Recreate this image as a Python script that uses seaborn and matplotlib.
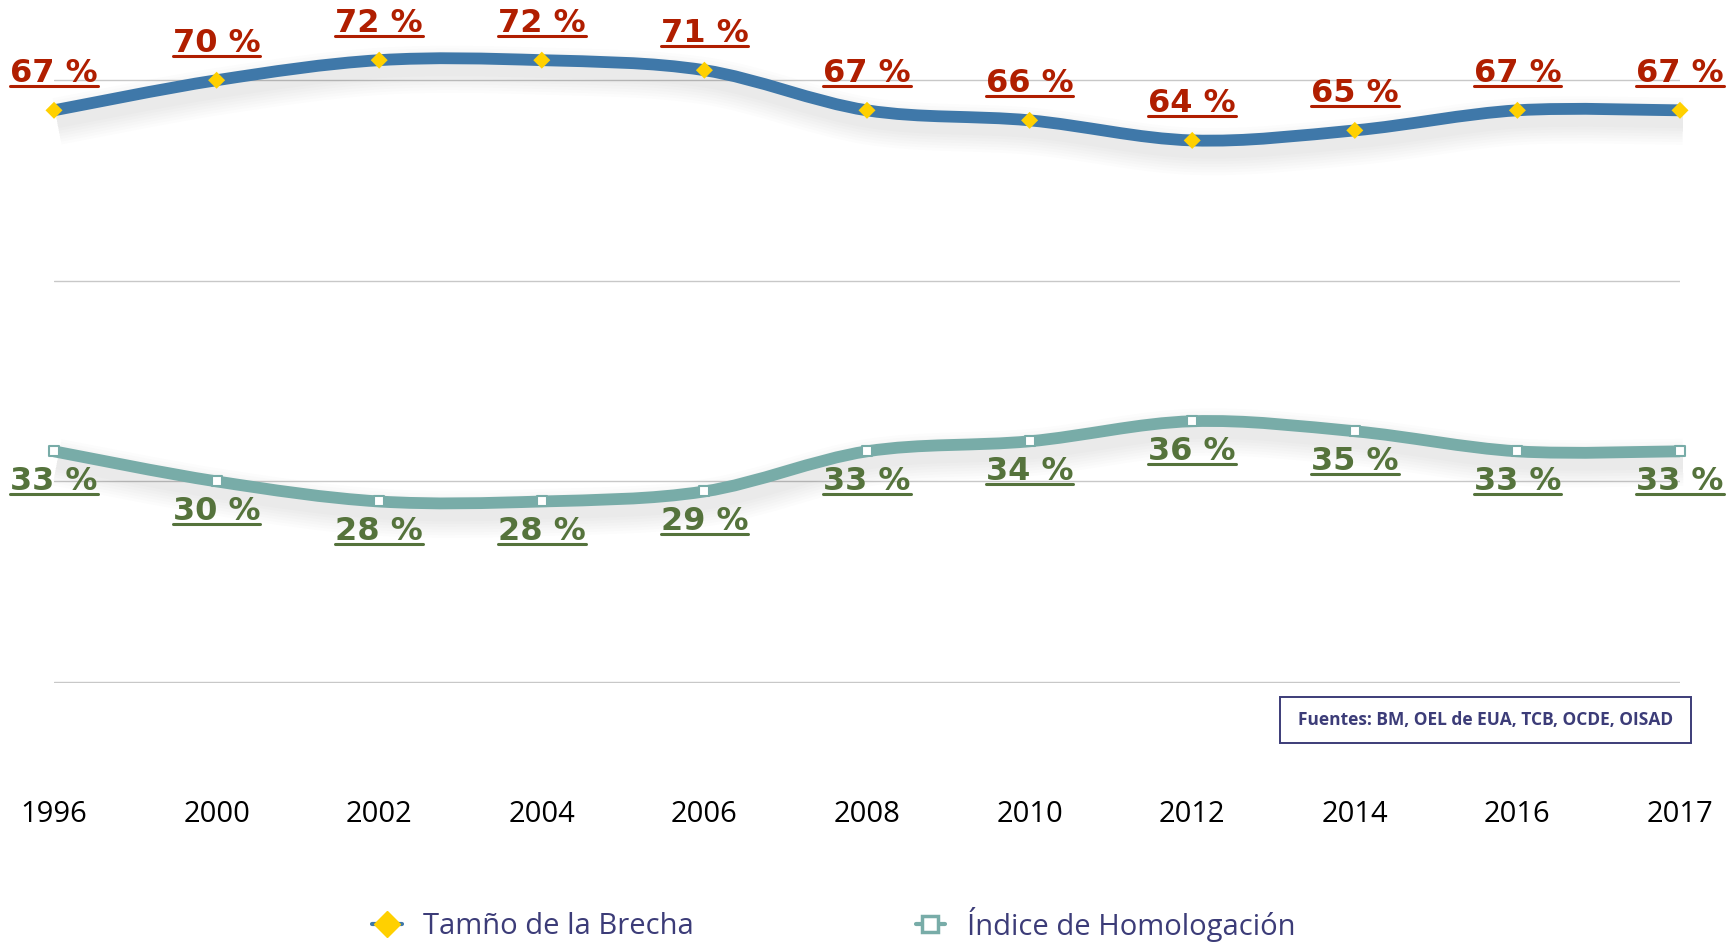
import numpy as np
import pandas as pd
import seaborn as sns
import matplotlib.pyplot as plt
import matplotlib.transforms as mtransforms
from matplotlib.path import Path
from matplotlib.patches import PathPatch, Rectangle
from matplotlib.lines import Line2D

# Data
years = ['1996', '2000', '2002', '2004', '2006', '2008', '2010', '2012', '2014', '2016', '2017']
brecha = [67, 70, 72, 72, 71, 67, 66, 64, 65, 67, 67]
homologacion = [33, 30, 28, 28, 29, 33, 34, 36, 35, 33, 33]
legend_labels = ['Tamño de la Brecha', 'Índice de Homologación']
source_text = 'Fuentes: BM, OEL de EUA, TCB, OCDE, OISAD'

df = pd.DataFrame({'pos': np.arange(len(years)), 'year': years,
                   'brecha': brecha, 'homologacion': homologacion})

BLUE = '#3f78a9'
TEAL = '#78aca8'
YELLOW = '#ffd000'
RED = '#b01e00'
GREEN = '#55733c'
NAVY = '#3c3c78'

sns.set_theme(style='white')
plt.rcParams['font.family'] = ['Open Sans', 'DejaVu Sans']

W, H = 1730, 942
fig = plt.figure(figsize=(W / 100, H / 100), dpi=100)
ax = fig.add_axes([54 / W, 1 - 683 / H, 1626 / W, 683 / H])
ax.set_xlim(0, len(years) - 1)
ax.set_ylim(9.9, 78)


def smooth_path(x, y):
    # Catmull-Rom style smoothing (like Excel "smoothed line") as bezier path
    pts = np.column_stack([x, y]).astype(float)
    ext = np.vstack([pts[0], pts, pts[-1]])
    verts = [pts[0]]
    codes = [Path.MOVETO]
    for i in range(len(pts) - 1):
        p0, p1, p2, p3 = ext[i], ext[i + 1], ext[i + 2], ext[i + 3]
        verts += [p1 + (p2 - p0) / 6, p2 - (p3 - p1) / 6, p2]
        codes += [Path.CURVE4] * 3
    return Path(verts, codes)


shadow_tr = mtransforms.offset_copy(ax.transData, fig=fig, x=3, y=-11, units='dots')
for col, color in [('brecha', BLUE), ('homologacion', TEAL)]:
    path = smooth_path(df['pos'], df[col])
    # soft drop shadow built from stacked translucent strokes
    for lw in [34, 30, 26, 22, 18, 14, 10]:
        ax.add_patch(PathPatch(path, transform=shadow_tr, fc='none', ec='black',
                               lw=lw, alpha=0.012, clip_on=False, zorder=1))
    ax.add_patch(PathPatch(path, fc='none', ec=color, lw=8.5, clip_on=False,
                           zorder=2, capstyle='butt'))

sns.scatterplot(data=df, x='pos', y='brecha', marker='D', s=75, color=YELLOW,
                edgecolor='none', zorder=5, clip_on=False, ax=ax, legend=False)
sns.scatterplot(data=df, x='pos', y='homologacion', marker='s', s=45, color='white',
                edgecolor=TEAL, linewidth=1.5, zorder=5, clip_on=False, ax=ax, legend=False)

# data labels
label_font = dict(family='DejaVu Sans', fontsize=23, fontweight='bold')
labels = []
for i, v in enumerate(brecha):
    t = ax.annotate(f'{v} %', (i, v), xytext=(0, 37), textcoords='offset pixels',
                    ha='center', va='center', color=RED, annotation_clip=False,
                    zorder=6, **label_font)
    labels.append((t, RED))
for i, v in enumerate(homologacion):
    t = ax.annotate(f'{v} %', (i, v), xytext=(0, -30), textcoords='offset pixels',
                    ha='center', va='center', color=GREEN, annotation_clip=False,
                    zorder=6, **label_font)
    labels.append((t, GREEN))

# axes styling
ax.set_yticks([10, 30, 50, 70])
ax.set_yticklabels([])
ax.yaxis.grid(True, color='#c8c8c8', lw=1)
ax.xaxis.grid(False)
ax.set_xticks(df['pos'])
ax.set_xticklabels(years, fontsize=21, color='black')
ax.tick_params(axis='x', length=0, pad=84)
ax.tick_params(axis='y', length=0)
ax.set_xlabel('')
ax.set_ylabel('')
sns.despine(ax=ax, left=True, bottom=True)

# underline the data labels
fig.canvas.draw()
renderer = fig.canvas.get_renderer()
for t, color in labels:
    bb = t.get_window_extent(renderer)
    y = bb.y0 + 3
    fig.add_artist(Line2D([bb.x0, bb.x1], [y, y], color=color, lw=2.2,
                          transform=mtransforms.IdentityTransform()))

# source box
fig.add_artist(Rectangle((1280 / W, 1 - 743 / H), 411 / W, 46 / H, transform=fig.transFigure,
                         fc='white', ec=NAVY, lw=1.4))
fig.text(1485.5 / W, 1 - 720 / H, source_text, ha='center', va='center',
         fontsize=12.5, fontweight='bold', color=NAVY)

# legend
handles = [
    Line2D([], [], color=BLUE, lw=3, marker='D', markersize=13,
           markerfacecolor=YELLOW, markeredgecolor=YELLOW),
    Line2D([], [], color=TEAL, lw=3, marker='s', markersize=12,
           markerfacecolor='white', markeredgecolor=TEAL, markeredgewidth=2.5),
]
fig.legend(handles, legend_labels, loc='center', bbox_to_anchor=(0.482, 1 - 924 / H),
           ncol=2, frameon=False, fontsize=21, labelcolor=NAVY,
           handlelength=1.0, handletextpad=0.75, columnspacing=7.6)

fig.savefig('out.png', dpi=100)
